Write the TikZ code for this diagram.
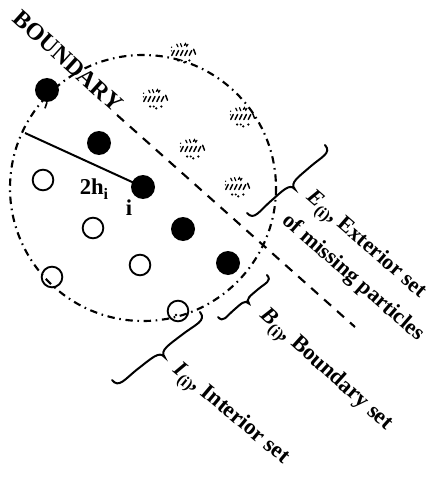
\documentclass[tikz,border=0pt]{standalone}
\usepackage{fontspec}
\setmainfont{Liberation Serif}
\usetikzlibrary{calc}
\tikzset{
  domainline/.style={line width=1.6pt, dash pattern=on 5.5pt off 3.5pt on 1.2pt off 3.5pt},
  bline/.style={line width=1.6pt, dash pattern=on 7pt off 6pt},
  filled/.style={circle, fill=black, minimum size=18pt, inner sep=0pt},
  hollow/.style={circle, draw=black, line width=1.4pt, minimum size=15.5pt, inner sep=0pt},
  lbl/.style={font=\bfseries\fontsize{17}{19}\selectfont, inner sep=0pt},
  bracestyle/.style={line width=1.5pt, line cap=round},
  missing/.pic={
    \begin{scope}[scale=1.25]
    \draw[line width=0.9pt, line cap=round]
      (-5,-7)--(-4,-5) (-2,-7.5)--(-1,-5) (1,-6)--(2,-7.5)--(3,-5.5)--(4,-7);
    \foreach \u in {-9,-5.5,-2,1.5,5}{
      \draw[line width=1.1pt, line cap=round] (\u,2)--(\u+2,-2);}
    \draw[line width=1.1pt, line cap=round] (8.5,-3)--(10,1);
    \fill (-4,6) circle[radius=1] (1,7.5) circle[radius=1] (5,6) circle[radius=1] (-1,6) circle[radius=0.9];
    \draw[line width=0.8pt, dotted] (-9,-5) arc[start angle=210, end angle=150, radius=4];
    \end{scope}
  }
}
\newcommand\wavybrace[3]{%
  \draw[bracestyle] (#1)
    .. controls ($(#1)!0!(#2)!0.8*#3!90:(#2)$) and ($(#1)!0.1!(#2)!0.5*#3!90:(#2)$)
    .. ($(#1)!0.25!(#2)!0.5*#3!90:(#2)$)
    .. controls ($(#1)!0.4!(#2)!0.5*#3!90:(#2)$) and ($(#1)!0.5!(#2)!0.4*#3!90:(#2)$)
    .. ($(#1)!0.5!(#2)!#3!90:(#2)$)
    .. controls ($(#1)!0.5!(#2)!0.4*#3!90:(#2)$) and ($(#1)!0.6!(#2)!0.5*#3!90:(#2)$)
    .. ($(#1)!0.75!(#2)!0.5*#3!90:(#2)$)
    .. controls ($(#1)!0.9!(#2)!0.5*#3!90:(#2)$) and ($(#1)!0.999!(#2)!0.8*#3!90:(#2)$)
    .. (#2);}
\begin{document}
\begin{tikzpicture}[x=0.75pt,y=-0.75pt]
\useasboundingbox (0,0) rectangle (431,478);

% domain of influence
\draw[domainline] (143,188) circle[radius=133];

% boundary line
\coordinate (b1) at (117,115);
\coordinate (b2) at (355,327);
\draw[bline] (b1) -- (b2);
\node[lbl, rotate=-42, font=\bfseries\fontsize{18}{20}\selectfont] (boundary) at (68,61) {BOUNDARY};

% smoothing length line
\coordinate (hstart) at (25,133);
\coordinate (ci) at (143,187);
\draw[line width=1.5pt] (hstart) -- (ci);

% particles
\node[filled] (p1) at (47,90) {};
\draw[line width=1.2pt] (p1.south) -- ++(-2,6);
\node[filled] (p2) at (99,143) {};
\node[filled] (pi) at (ci) {};
\node[filled] (p4) at (183,229) {};
\node[filled] (p5) at (228,263) {};

\node[hollow] (q1) at (43,180) {};
\node[hollow] (q2) at (93,228) {};
\node[hollow] (q3) at (140,265) {};
\node[hollow] (q4) at (52,277) {};
\node[hollow] (q5) at (178,311) {};
\fill (176,315) circle[radius=1.3];

\pic at (183,53) {missing};
\pic at (155,99) {missing};
\pic at (242,117) {missing};
\pic at (192,149) {missing};
\pic at (237,187) {missing};

\node[lbl] (hl) at (94,189) {2h\raisebox{-0.45ex}{\fontsize{12}{13}\selectfont i}};
\node[lbl] (il) at (129,208) {i};

% braces
\coordinate (eA) at (325,145);
\coordinate (eB) at (247,213);
\wavybrace{eA}{eB}{10pt}
\coordinate (bA) at (267,275);
\coordinate (bB) at (218,317);
\wavybrace{bA}{bB}{7.5pt}
\coordinate (iA) at (200,312);
\coordinate (iB) at (112,380);
\wavybrace{iA}{iB}{10.5pt}

% labels
\node[lbl, rotate=-41, font=\bfseries\fontsize{16.5}{18}\selectfont] (el) at (365,246) {\textit{E}\raisebox{-0.5ex}{\fontsize{12}{13}\selectfont(i)}, Exterior set};
\node[lbl, rotate=-41, font=\bfseries\fontsize{16.5}{18}\selectfont] (ml) at (353,278) {of missing particles};
\node[lbl, rotate=-42] (bl) at (325,371) {\textit{B}\raisebox{-0.5ex}{\fontsize{12}{13}\selectfont(i)}, Boundary set};
\node[lbl, rotate=-40] (ill) at (230,415) {\textit{I}\raisebox{-0.5ex}{\fontsize{12}{13}\selectfont(i)}, Interior set};
\end{tikzpicture}
\end{document}
